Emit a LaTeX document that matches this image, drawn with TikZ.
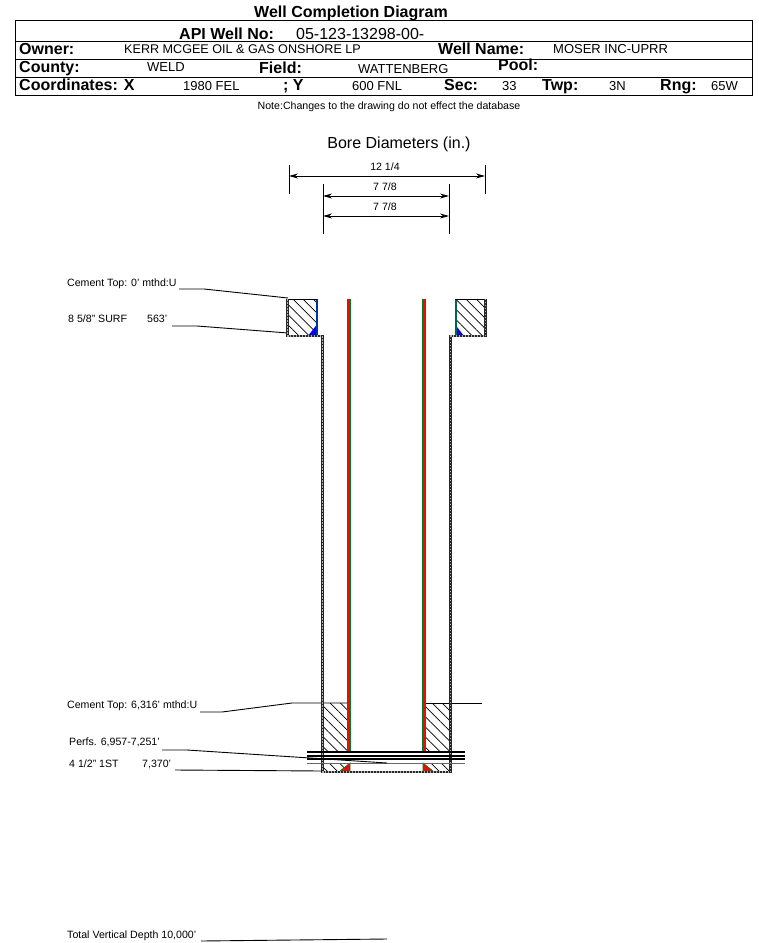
\documentclass[tikz,border=0pt]{standalone}
\usepackage{fontspec}
\setmainfont{Liberation Sans}
\usetikzlibrary{calc}
\usetikzlibrary{patterns.meta}
\usetikzlibrary{arrows.meta}
\definecolor{tubered}{RGB}{240,10,0}
\definecolor{tubegreen}{RGB}{0,125,40}
\tikzset{
  head/.style={anchor=base west,inner sep=0pt,font=\bfseries\fontsize{16}{16}\selectfont},
  val/.style={anchor=base west,inner sep=0pt,font=\fontsize{13}{13}\selectfont},
  tag/.style={anchor=base west,inner sep=0pt,font=\fontsize{10.6}{11}\selectfont},
  leader/.style={line width=.9pt},
  dim/.style={line width=.9pt,{Stealth[length=9pt,width=5pt]}-{Stealth[length=9pt,width=5pt]}},
  tick/.style={line width=.9pt},
  cement/.style={pattern={Lines[angle=-45,distance=7.2pt,line width=.7pt]},pattern color=black},
  casing/.style={line width=2.8pt,black!85},
  casingdot/.style={line width=1.2pt,white!70!black,dash pattern=on 1.5pt off 1.5pt},
}
\begin{document}
\begin{tikzpicture}[x=1pt,y=-1pt]
      \useasboundingbox (0,0) rectangle (759,943);
      \fill[white] (0,0) rectangle (759,943);
      \node[anchor=base,inner sep=0pt,font=\bfseries\fontsize{16}{16}\selectfont] (title) at (351,17) {Well Completion Diagram};
      \draw[line width=1pt] (15,20) rectangle (752,95);
      \foreach \y in {41.5,59,77} {
        \draw[line width=1pt] (15,\y) -- (752,\y);
      }
      \node[head] (api) at (179,39) {API Well No:};
      \node[val,font=\fontsize{16}{16}\selectfont] (apino) at (296,39) {05-123-13298-00-};
      \node[head] (owner) at (19,54) {Owner:};
      \node[val,font=\fontsize{12.6}{13}\selectfont] (ownerval) at (124,53) {KERR MCGEE OIL \& GAS ONSHORE LP};
      \node[head] (wname) at (438,54) {Well Name:};
      \node[val] (wnameval) at (553,53.5) {MOSER INC-UPRR};
      \node[head] (county) at (19,72) {County:};
      \node[val] (countyval) at (147,71.5) {WELD};
      \node[head] (field) at (259,73) {Field:};
      \node[val] (fieldval) at (358,73) {WATTENBERG};
      \node[head] (pool) at (498,70) {Pool:};
      \node[head] (coord) at (19,90) {Coordinates: X};
      \node[val] (xval) at (183,90) {1980 FEL};
      \node[head] (ysep) at (283,90) {; Y};
      \node[val] (yval) at (352,90) {600 FNL};
      \node[head] (sec) at (444,90) {Sec:};
      \node[val] (secval) at (502,90) {33};
      \node[head] (twp) at (542,90) {Twp:};
      \node[val] (twpval) at (609,90) {3N};
      \node[head] (rng) at (660,90) {Rng:};
      \node[val] (rngval) at (711,90) {65W};
      \node[tag,anchor=base] (note) at (389,109) {Note:Changes to the drawing do not effect the database};
      % bore sizes
      \node[anchor=base,inner sep=0pt,font=\fontsize{16}{16}\selectfont] (bores) at (399,148) {Bore Diameters (in.)};
      \coordinate (b1l) at (289,176);
      \coordinate (b1r) at (485,176);
      \coordinate (b2l) at (323,196);
      \coordinate (b2r) at (449,196);
      \coordinate (b3l) at (323,216);
      \coordinate (b3r) at (449,216);
      \draw[tick] (289,165) -- (289,194);
      \draw[tick] (485,165) -- (485,194);
      \draw[tick] (323,184) -- (323,234);
      \draw[tick] (449,184) -- (449,234);
      \path[dim] (b1l) edge (b1r);
      \path[dim] (b2l) edge (b2r);
      \path[dim] (b3l) edge (b3r);
      \node[tag,anchor=base] (d1) at (385,170) {12 1/4};
      \node[tag,anchor=base] (d2) at (385,190) {7 7/8};
      \node[tag,anchor=base] (d3) at (385,210) {7 7/8};
      % surface cement
      \path[cement] (288,299) rectangle (317,335);
      \path[cement] (455,299) rectangle (485,335);
      \fill[blue] (316.5,325) -- (316.5,336) -- (308,336) -- cycle;
      \fill[blue] (455.5,325) -- (455.5,336) -- (464,336) -- cycle;
      \fill[blue!60!tubegreen] (315.5,299) rectangle (317.5,336);
      \fill[tubegreen!80!blue] (454.5,299) rectangle (456.5,336);
      \draw[line width=.9pt] (288,299) -- (317,299);
      \draw[line width=.9pt] (455,299) -- (485,299);
      % bottom cement
      \path[cement] (323,703) rectangle (347,751);
      \path[cement] (425,703) rectangle (450,751);
      \path[cement] (323,763) rectangle (450,771);
      \fill[white] (345,763) rectangle (428,771);
      \fill[tubered,draw=tubegreen,line width=.6pt] (350,763) -- (350,771) -- (340,771) -- cycle;
      \fill[tubered,draw=tubegreen,line width=.6pt] (423,763) -- (423,771) -- (433,771) -- cycle;
      % tubing
      \foreach \x in {347,422} {
        \fill[tubegreen] (\x,299) rectangle (\x+4,751);
        \fill[tubered] (\x+1,299) rectangle (\x+3,751);
      }
      % labels and leaders
      \node[tag] (ctop1) at (67,286.5) {Cement Top: 0' mthd:U};
      \coordinate (ctop1a) at (179,289);
      \coordinate (ctop1b) at (204,289);
      \coordinate (ctop1c) at (288,298);
      \draw[leader] (ctop1a) -- (ctop1b) -- (ctop1c);
      \node[tag] (surf) at (68,322.5) {8 5/8" SURF};
      \node[tag] (surfd) at (147,322.5) {563'};
      \coordinate (surfa) at (172,326);
      \coordinate (surfb) at (197,326);
      \coordinate (surfc) at (288,333);
      \draw[leader] (surfa) -- (surfb) -- (surfc);
      \node[tag] (ctop2) at (67,708.5) {Cement Top: 6,316' mthd:U};
      \coordinate (ctop2a) at (200,712);
      \coordinate (ctop2b) at (222,712);
      \coordinate (ctop2c) at (292,703);
      \coordinate (ctop2d) at (347,703);
      \coordinate (ctop2e) at (426,703);
      \coordinate (ctop2f) at (482,703);
      \draw[leader] (ctop2a) -- (ctop2b) -- (ctop2c) -- (ctop2d);
      \draw[leader] (ctop2e) -- (ctop2f);
      % casing
      \draw[casing] (287.5,299) -- (287.5,336) -- (322.5,336) -- (322.5,772) -- (450.5,772) -- (450.5,336) -- (485.5,336) -- (485.5,299);
      \draw[casingdot] (287.5,299) -- (287.5,336) -- (322.5,336) -- (322.5,772) -- (450.5,772) -- (450.5,336) -- (485.5,336) -- (485.5,299);
      % perforations
      \foreach \y/\w/\c in {751.7/2.2/black,755.7/2.2/black,759.3/2/black,763.3/1/black!60} {
        \draw[line width=\w pt,\c] (307,\y) -- (465,\y);
      }
      \node[tag] (perfs) at (69,745) {Perfs. 6,957-7,251'};
      \coordinate (perfsa) at (162,750);
      \coordinate (perfsb) at (187,750);
      \coordinate (perfsc) at (387,763);
      \draw[leader] (perfsa) -- (perfsb) -- (perfsc);
      \node[tag] (liner) at (69,767) {4 1/2" 1ST};
      \node[tag] (linerd) at (142,767) {7,370'};
      \coordinate (linera) at (175,770);
      \coordinate (linerb) at (322,771);
      \draw[leader] (linera) -- (linerb);
      \node[tag] (tvd) at (67,938.5) {Total Vertical Depth 10,000'};
      \coordinate (tvda) at (201,941);
      \coordinate (tvdb) at (387,939);
      \draw[leader] (tvda) -- (tvdb);
    \end{tikzpicture}
\end{document}
